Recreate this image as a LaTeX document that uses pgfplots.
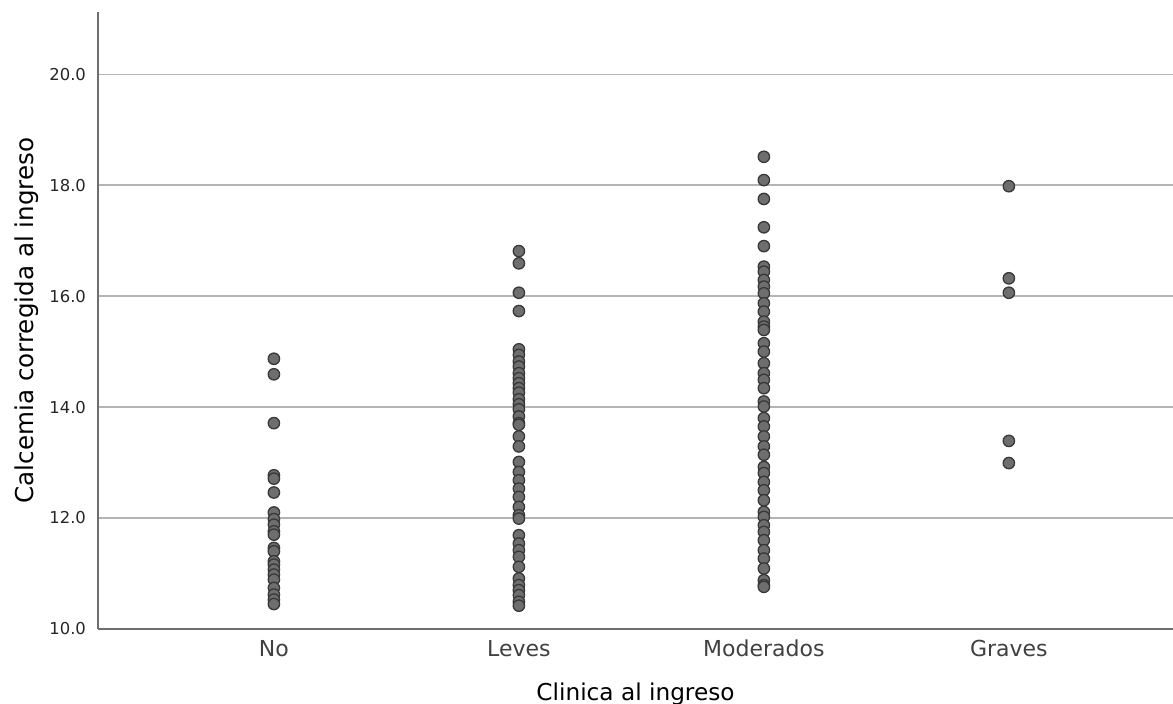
\documentclass[border=0pt]{standalone}
\usepackage{pgfplots}
\pgfplotsset{compat=1.18}
\usepackage{fontspec}
\setmainfont{DejaVu Sans}

\definecolor{markfill}{HTML}{6E6E6E}
\definecolor{markedge}{HTML}{383838}
\definecolor{gridc}{HTML}{B4B4B4}
\definecolor{spine}{HTML}{6E6E6E}

\begin{document}
\begin{tikzpicture}
\useasboundingbox (0,0) rectangle (586.5pt,352pt);
\begin{axis}[
  at={(49pt,37.5pt)}, anchor=south west,
  scale only axis,
  width=537.5pt, height=308.5pt,
  xmin=-0.718, xmax=3.67,
  ymin=10, ymax=21.12,
  axis x line*=bottom, axis y line*=left,
  axis line style={draw=spine, line width=0.6pt, -},
  xtick={0,1,2,3},
  xticklabels={No,Leves,Moderados,Graves},
  ytick={10,12,14,16,18,20},
  yticklabel={\pgfmathprintnumber[fixed,fixed zerofill,precision=1]{\tick}},
  /pgf/number format/assume math mode=true,
  major tick length=0pt,
  ymajorgrids,
  grid style={draw=gridc, line width=0.6pt},
  xticklabel style={font=\fontsize{11}{12}\selectfont, color=black!75, yshift=-2pt},
  yticklabel style={font=\fontsize{8.2}{9}\selectfont, color=black!85, xshift=-2.5pt},
  xlabel={Clinica al ingreso},
  ylabel={Calcemia corregida al ingreso},
  xlabel style={font=\fontsize{11.6}{13}\selectfont, at={(axis description cs:0.5,0)}, anchor=north, yshift=-23.5pt},
  ylabel style={font=\fontsize{12.3}{14}\selectfont, at={(axis description cs:0,0.5)}, anchor=south, yshift=26pt},
  clip=false,
]
\addplot[only marks, mark=*, mark size=2.85pt,
  mark options={fill=markfill, draw=markedge, line width=0.65pt}]
coordinates {
  % No
  (0,14.87) (0,14.59) (0,13.71) (0,12.77) (0,12.71) (0,12.46)
  (0,12.10) (0,11.98) (0,11.88) (0,11.76) (0,11.70) (0,11.46) (0,11.40)
  (0,11.22) (0,11.16) (0,11.07) (0,10.98) (0,10.89) (0,10.74) (0,10.62)
  (0,10.53) (0,10.45)
  % Leves
  (1,16.81) (1,16.59) (1,16.06) (1,15.73)
  (1,15.04) (1,14.94) (1,14.82) (1,14.73) (1,14.61) (1,14.52) (1,14.43)
  (1,14.34) (1,14.26) (1,14.14) (1,14.05) (1,13.96) (1,13.83) (1,13.71)
  (1,13.68) (1,13.47) (1,13.29) (1,13.01) (1,12.83) (1,12.68) (1,12.53)
  (1,12.38) (1,12.20) (1,12.05) (1,11.99) (1,11.69) (1,11.54) (1,11.42)
  (1,11.30) (1,11.12) (1,10.91) (1,10.79) (1,10.70) (1,10.61) (1,10.49)
  (1,10.42)
  % Moderados
  (2,18.51) (2,18.09) (2,17.75) (2,17.24) (2,16.90) (2,16.53) (2,16.44)
  (2,16.29) (2,16.17) (2,16.05) (2,15.87) (2,15.72) (2,15.54) (2,15.45)
  (2,15.39) (2,15.15) (2,15.00) (2,14.79) (2,14.61) (2,14.49) (2,14.34)
  (2,14.10) (2,14.01) (2,13.80) (2,13.65) (2,13.47) (2,13.29) (2,13.14)
  (2,12.92) (2,12.81) (2,12.65) (2,12.50) (2,12.32) (2,12.11) (2,12.02)
  (2,11.87) (2,11.75) (2,11.60) (2,11.42) (2,11.27) (2,11.09) (2,10.88)
  (2,10.79) (2,10.76)
  % Graves
  (3,17.98) (3,16.32) (3,16.06) (3,13.39) (3,12.99)
};
\end{axis}
\end{tikzpicture}
\end{document}
